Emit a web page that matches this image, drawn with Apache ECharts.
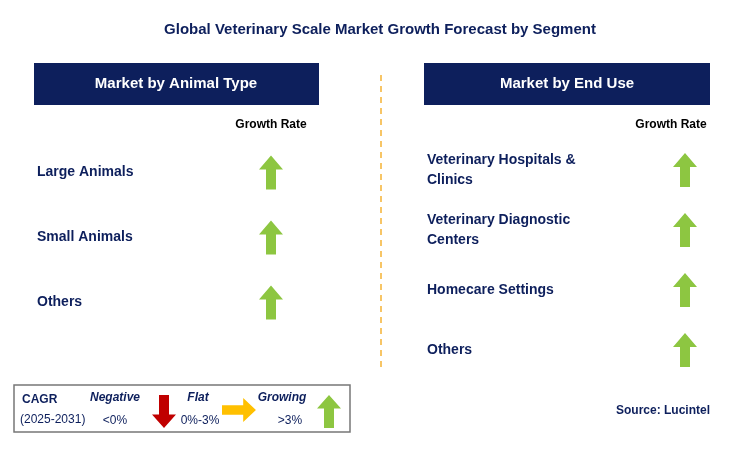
<!DOCTYPE html>
<html><head><meta charset="utf-8">
<script src="https://cdn.jsdelivr.net/npm/echarts@6/dist/echarts.min.js"></script>
<style>html,body{margin:0;padding:0;background:#fff}#c{width:738px;height:450px}</style>
</head><body><div id="c"></div>
<script>
const animalTypes = ['Large Animals', 'Small Animals', 'Others'];
const animalGrowth = ['growing', 'growing', 'growing'];
const endUses = ['Veterinary Hospitals &\nClinics', 'Veterinary Diagnostic\nCenters', 'Homecare Settings', 'Others'];
const endUseGrowth = ['growing', 'growing', 'growing', 'growing'];

const NAVY = '#0d1f5c';
const UP = 'path://M12,0 L24,14 L17,14 L17,34 L7,34 L7,14 L0,14 Z';
const arrowColor = {growing: '#8dc641', flat: '#ffc000', negative: '#c00000'};
const font = 'Arial, "Liberation Sans", sans-serif';

function yAxis(idx, cats) {
  return {type: 'category', gridIndex: idx, data: cats, inverse: true,
    axisLine: {show: false}, axisTick: {show: false}, splitLine: {show: false},
    axisLabel: {align: 'left', margin: 0, color: NAVY, fontWeight: 'bold', fontSize: 14, fontFamily: font, lineHeight: 20}};
}
function xAxis(idx) {
  return {type: 'value', gridIndex: idx, min: 0, max: 1, show: false};
}
function series(idx, cats, growth) {
  return {type: 'scatter', xAxisIndex: idx, yAxisIndex: idx, symbol: UP, symbolSize: [24, 34],
    data: cats.map((c, i) => ({value: [1, c], itemStyle: {color: arrowColor[growth[i]], opacity: 1}}))};
}
function poly(pts, x, y, sx, sy, fill) {
  return {type: 'polygon', shape: {points: pts.map(p => [x + p[0] * sx, y + p[1] * sy])}, style: {fill: fill}};
}
const upPts = [[12,0],[24,14],[17,14],[17,34],[7,34],[7,14],[0,14]];
const downPts = [[7,0],[17,0],[17,20],[24,20],[12,34],[0,20],[7,20]];
const rightPts = [[0,6],[20,6],[20,0],[32,10],[20,20],[20,14],[0,14]];

const chart = echarts.init(document.getElementById('c'));
chart.setOption({
  animation: false,
  grid: [
    {left: 37, right: 467, top: 140, height: 195},
    {left: 427, right: 53, top: 140, height: 240}
  ],
  xAxis: [xAxis(0), xAxis(1)],
  yAxis: [yAxis(0, animalTypes), yAxis(1, endUses)],
  series: [series(0, animalTypes, animalGrowth), series(1, endUses, endUseGrowth)],
  graphic: [
    {type: 'text', x: 380, y: 30, style: {text: 'Global Veterinary Scale Market Growth Forecast by Segment', fill: NAVY, font: 'bold 15px ' + font, align: 'center', verticalAlign: 'middle'}},
    {type: 'rect', shape: {x: 34, y: 63, width: 285, height: 42}, style: {fill: NAVY}},
    {type: 'text', x: 176, y: 84, style: {text: 'Market by Animal Type', fill: '#fff', font: 'bold 15px ' + font, align: 'center', verticalAlign: 'middle'}},
    {type: 'rect', shape: {x: 424, y: 63, width: 286, height: 42}, style: {fill: NAVY}},
    {type: 'text', x: 567, y: 84, style: {text: 'Market by End Use', fill: '#fff', font: 'bold 15px ' + font, align: 'center', verticalAlign: 'middle'}},
    {type: 'text', x: 271, y: 125, style: {text: 'Growth Rate', fill: '#000', font: 'bold 12px ' + font, align: 'center', verticalAlign: 'middle'}},
    {type: 'text', x: 671, y: 125, style: {text: 'Growth Rate', fill: '#000', font: 'bold 12px ' + font, align: 'center', verticalAlign: 'middle'}},
    {type: 'line', shape: {x1: 381, y1: 75, x2: 381, y2: 368}, style: {stroke: '#f5b335', lineWidth: 1.5, lineDash: [6, 5]}},
    {type: 'rect', shape: {x: 14, y: 385, width: 336, height: 47}, style: {fill: '#fff', stroke: '#777', lineWidth: 1.5}},
    {type: 'text', x: 22, y: 400, style: {text: 'CAGR', fill: NAVY, font: 'bold 12px ' + font, verticalAlign: 'middle'}},
    {type: 'text', x: 20, y: 420, style: {text: '(2025-2031)', fill: NAVY, font: '12px ' + font, verticalAlign: 'middle'}},
    {type: 'text', x: 115, y: 398, style: {text: 'Negative', fill: NAVY, font: 'italic bold 12px ' + font, align: 'center', verticalAlign: 'middle'}},
    {type: 'text', x: 115, y: 421, style: {text: '<0%', fill: NAVY, font: '12px ' + font, align: 'center', verticalAlign: 'middle'}},
    poly(downPts, 152, 395, 1, 0.97, '#c00000'),
    {type: 'text', x: 198, y: 398, style: {text: 'Flat', fill: NAVY, font: 'italic bold 12px ' + font, align: 'center', verticalAlign: 'middle'}},
    {type: 'text', x: 200, y: 421, style: {text: '0%-3%', fill: NAVY, font: '12px ' + font, align: 'center', verticalAlign: 'middle'}},
    poly(rightPts, 222, 398, 1.06, 1.2, '#ffc000'),
    {type: 'text', x: 282, y: 398, style: {text: 'Growing', fill: NAVY, font: 'italic bold 12px ' + font, align: 'center', verticalAlign: 'middle'}},
    {type: 'text', x: 290, y: 421, style: {text: '>3%', fill: NAVY, font: '12px ' + font, align: 'center', verticalAlign: 'middle'}},
    poly(upPts, 317, 395, 1, 0.97, '#8dc641'),
    {type: 'text', x: 710, y: 411, style: {text: 'Source: Lucintel', fill: NAVY, font: 'bold 12px ' + font, align: 'right', verticalAlign: 'middle'}}
  ]
});
</script></body></html>
